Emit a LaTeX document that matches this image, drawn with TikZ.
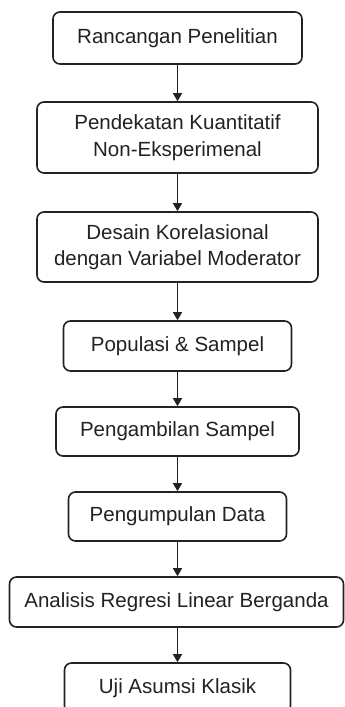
\documentclass[tikz,border=0pt]{standalone}
\usepackage{fontspec}
\setmainfont{Liberation Sans}
\usetikzlibrary{arrows.meta}
\definecolor{ink}{HTML}{222222}
\begin{document}
\begin{tikzpicture}[x=1pt,y=1pt,
  box/.style={draw=ink, line width=1.6pt, rounded corners=7pt, align=center,
    font=\fontsize{20.5}{26.5}\selectfont, text=ink, inner sep=0pt},
  conn/.style={draw=ink, line width=1.5pt, -{Triangle[width=9pt,length=8pt]}}]
\useasboundingbox (0,0) rectangle (345,707);
\fill[white] (0,0) rectangle (345,707);
\node[box, minimum width=249pt, minimum height=52pt] (b1) at (177.5,669) {Rancangan Penelitian};
\node[box, minimum width=281pt, minimum height=71pt] (b2) at (177.5,569.5) {Pendekatan Kuantitatif\\Non-Eksperimenal};
\node[box, minimum width=281pt, minimum height=70pt] (b3) at (177.5,460) {Desain Korelasional\\dengan Variabel Moderator};
\node[box, minimum width=228pt, minimum height=50pt] (b4) at (177.5,361) {Populasi \& Sampel};
\node[box, minimum width=243pt, minimum height=49pt] (b5) at (177.5,275.5) {Pengambilan Sampel};
\node[box, minimum width=218pt, minimum height=49pt] (b6) at (177.5,190.5) {Pengumpulan Data};
\node[box, minimum width=334pt, minimum height=50pt] (b7) at (176.5,105) {Analisis Regresi Linear Berganda};
\node[box, minimum width=226pt, minimum height=50pt] (b8) at (177.5,19) {Uji Asumsi Klasik};
\draw[conn] (b1.south) -- (b2.north);
\draw[conn] (b2.south) -- (b3.north);
\draw[conn] (b3.south) -- (b4.north);
\draw[conn] (b4.south) -- (b5.north);
\draw[conn] (b5.south) -- (b6.north);
\draw[conn] (b6.south) -- (b7.north -| b6.south);
\draw[conn] (b7.south -| b8.north) -- (b8.north);
\end{tikzpicture}
\end{document}
